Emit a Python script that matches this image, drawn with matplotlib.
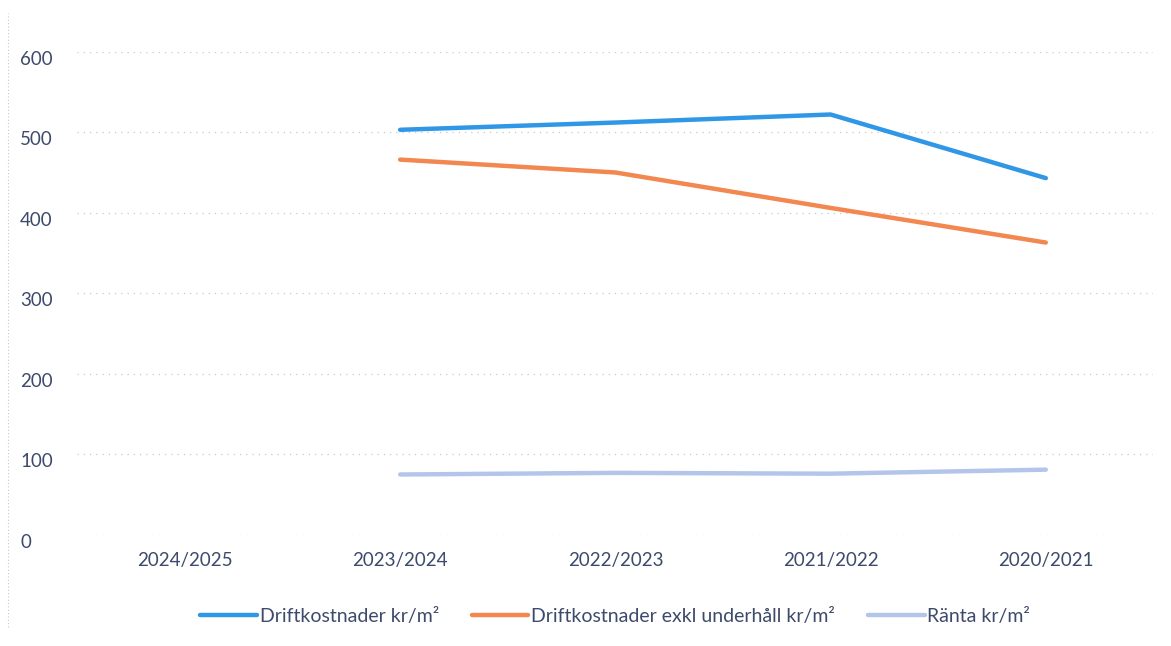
import matplotlib.pyplot as plt
import matplotlib.transforms as mtrans
from matplotlib.lines import Line2D

# -------------------- DATA --------------------
years = ["2024/2025", "2023/2024", "2022/2023", "2021/2022", "2020/2021"]
drift = [None, 503, 512, 522, 443]
drift_exkl = [None, 466, 450, 406, 363]
ranta = [None, 75, 77, 76, 81]

# -------------------- STYLE --------------------
plt.rcParams["font.family"] = ["Lato", "DejaVu Sans"]
txt_col = "#3d4a6b"

fig = plt.figure(figsize=(11.71, 6.46), dpi=100)
ax = fig.add_axes([0.066, 0.172, 0.919, 0.748])

x = list(range(len(years)))

def series(vals):
    xs = [i for i, v in zip(x, vals) if v is not None]
    ys = [v for v in vals if v is not None]
    return xs, ys

ax.plot(*series(drift), color="#2f97e6", lw=3.2, solid_capstyle="round",
        label="Driftkostnader kr/m²")
ax.plot(*series(drift_exkl), color="#f2884f", lw=3.2, solid_capstyle="round",
        label="Driftkostnader exkl underhåll kr/m²")
ax.plot(*series(ranta), color="#b3c6ea", lw=3.2, solid_capstyle="round",
        label="Ränta kr/m²")

ax.set_xlim(-0.5, len(years) - 0.5)
ax.set_ylim(0, 600)
ax.set_yticks(range(0, 601, 100))
ax.set_xticks(x)
ax.set_xticklabels(years)
ax.yaxis.grid(True, color="#c8c8c8", linestyle=(0, (1, 4)), linewidth=0.9)
ax.set_axisbelow(True)
for s in ax.spines.values():
    s.set_visible(False)
ax.tick_params(length=0, colors=txt_col, labelsize=13.5)
ax.tick_params(axis="x", pad=12)
ax.tick_params(axis="y", pad=0)
# labels sit slightly below their gridlines, as in the scan
off = mtrans.ScaledTranslation(0, -6 / 100, fig.dpi_scale_trans)
for lab in ax.get_yticklabels():
    lab.set_horizontalalignment("left")
    lab.set_x(-0.053)
    lab.set_transform(lab.get_transform() + off)

leg = ax.legend(loc="upper center", bbox_to_anchor=(0.5, -0.115), ncol=3,
                frameon=False, fontsize=14, handlelength=2.9,
                handletextpad=0.15, columnspacing=1.7, labelcolor=txt_col)

# faint scanned page border on the left
fig.add_artist(Line2D([0.007, 0.007], [0.03, 0.98], color="#c8c8c8",
                      lw=0.8, linestyle=(0, (1, 2))))

fig.savefig("out.png", dpi=100)
